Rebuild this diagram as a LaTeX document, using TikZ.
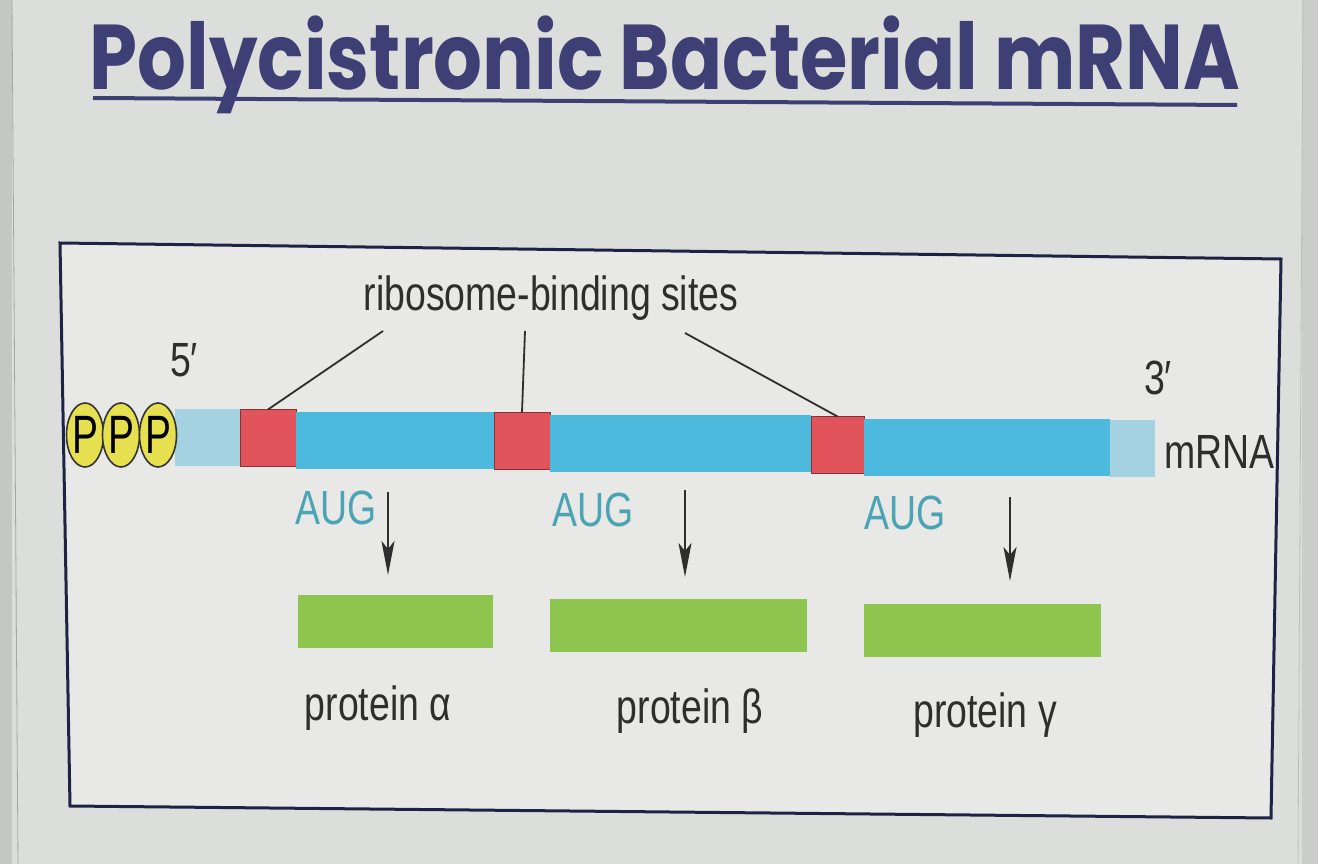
\documentclass[tikz,border=0pt]{standalone}
\usepackage{fontspec}
\setmainfont{Liberation Sans}
\newfontfamily\narrowfont[FakeStretch=0.78]{Liberation Sans}
\newfontfamily\pfont[FakeStretch=0.72]{Liberation Sans}
\newfontfamily\titlefont[FakeStretch=0.835]{Poppins}
\usetikzlibrary{arrows.meta,shapes.geometric}
\definecolor{bgout}{HTML}{D6D8D5}
\definecolor{bgslide}{HTML}{DCDEDB}
\definecolor{bginner}{HTML}{E8E9E6}
\definecolor{navy}{HTML}{3E3F75}
\definecolor{framec}{HTML}{1E2345}
\definecolor{rnablue}{HTML}{4DB9DC}
\definecolor{rnalight}{HTML}{A4D2E1}
\definecolor{rbsred}{HTML}{E2545B}
\definecolor{protgreen}{HTML}{8EC54F}
\definecolor{augc}{HTML}{4AA4B4}
\definecolor{pyellow}{HTML}{E6E050}
\definecolor{txt}{HTML}{2E2E2E}
\tikzset{
  seg/.style={draw=none, inner sep=0pt, outer sep=0pt, minimum height=57pt},
  rbs/.style={seg, fill=rbsred, draw=rbsred!60!black, line width=0.8pt, minimum width=#1},
  cds/.style={seg, fill=rnablue, minimum width=#1},
  utr/.style={seg, fill=rnalight, minimum width=#1},
  prot/.style={inner sep=0pt, outer sep=0pt, fill=protgreen, minimum height=53pt, minimum width=#1},
  lbl/.style={font=\narrowfont\fontsize{48}{52}\selectfont, text=txt, inner sep=0pt},
  aug/.style={font=\narrowfont\fontsize{48}{52}\selectfont, text=augc, inner sep=0pt},
  pcirc/.style={ellipse, draw=black!80, line width=1.6pt, fill=pyellow, minimum width=37pt, minimum height=64pt, inner sep=0pt,
    font=\pfont\fontsize{54}{58}\selectfont},
  lead/.style={draw=txt, line width=1.8pt},
  transl/.style={draw=txt, line width=2.2pt, -{Stealth[length=34pt,width=13pt,inset=8pt]}}
}
\begin{document}
\begin{tikzpicture}[x=1pt,y=-1pt]
\useasboundingbox (0,0) rectangle (1318,864);
% background
\fill[bgslide] (0,0) rectangle (1318,864);
\fill[bgout!92!black] (0,0) rectangle (12,864);
\draw[black!35, line width=0.8pt] (12,0) -- (18,864);
\fill[bgout!95!black] (1302,0) rectangle (1318,864);
\draw[black!25, line width=0.8pt] (1303,0) -- (1298,864);
% title
\node[font=\titlefont\bfseries\fontsize{92}{100}\selectfont, text=navy, anchor=base, inner sep=0pt] (title) at (665,90) {Polycistronic Bacterial mRNA};
\draw[navy, line width=4pt] (93,98) -- (1237,105);
% frame
\draw[framec, line width=3pt, fill=bginner] (60,243) -- (1281,259) -- (1271,818) -- (70,806) -- cycle;
% mRNA
\node[utr=65pt]  (u5)  at (207.5,437) {};
\node[rbs=56pt]  (r1)  at (268,438) {};
\node[cds=198pt] (c1)  at (395,440) {};
\node[rbs=56pt]  (r2)  at (522,441) {};
\node[cds=261pt] (c2)  at (680.5,443) {};
\node[rbs=53pt]  (r3)  at (837.5,445) {};
\node[cds=246pt] (c3)  at (987,447) {};
\node[utr=45pt]  (u3)  at (1132.5,448) {};
% caps
\node[pcirc] (p1) at (85,435) {P};
\node[pcirc] (p2) at (121,435) {P};
\node[pcirc] (p3) at (158,435) {P};
% labels
\node[lbl] (five) at (184,360) {5′};
\node[lbl] (three) at (1158,378) {3′};
\node[lbl, anchor=west] (mrna) at (1164,452) {mRNA};
\node[lbl] (rbslbl) at (551,298) {ribosome-binding sites};
\coordinate (l1) at (383,331);
\coordinate (l2) at (525,331);
\coordinate (l3) at (685,333);
\draw[lead] (l1) -- (r1.north);
\draw[lead] (l2) -- (r2.north);
\draw[lead] (l3) -- (r3.north);
% AUG
\node[aug] (aug1) at (336,508) {AUG};
\node[aug] (aug2) at (593,510) {AUG};
\node[aug] (aug3) at (905,513) {AUG};
\coordinate (a1) at (388,492);
\coordinate (a2) at (685,490);
\coordinate (a3) at (1010,497);
\coordinate (e1) at (388,575);
\coordinate (e2) at (685,577);
\coordinate (e3) at (1010,581);
\draw[transl] (a1) -- (e1);
\draw[transl] (a2) -- (e2);
\draw[transl] (a3) -- (e3);
% proteins
\node[prot=195pt] (g1) at (395.5,621.5) {};
\node[prot=257pt] (g2) at (678.5,625) {};
\node[prot=237pt] (g3) at (982.5,630) {};
\node[lbl] (pa) at (378,708) {protein α};
\node[lbl] (pb) at (690,711) {protein β};
\node[lbl] (pg) at (985,715) {protein γ};
\end{tikzpicture}
\end{document}
